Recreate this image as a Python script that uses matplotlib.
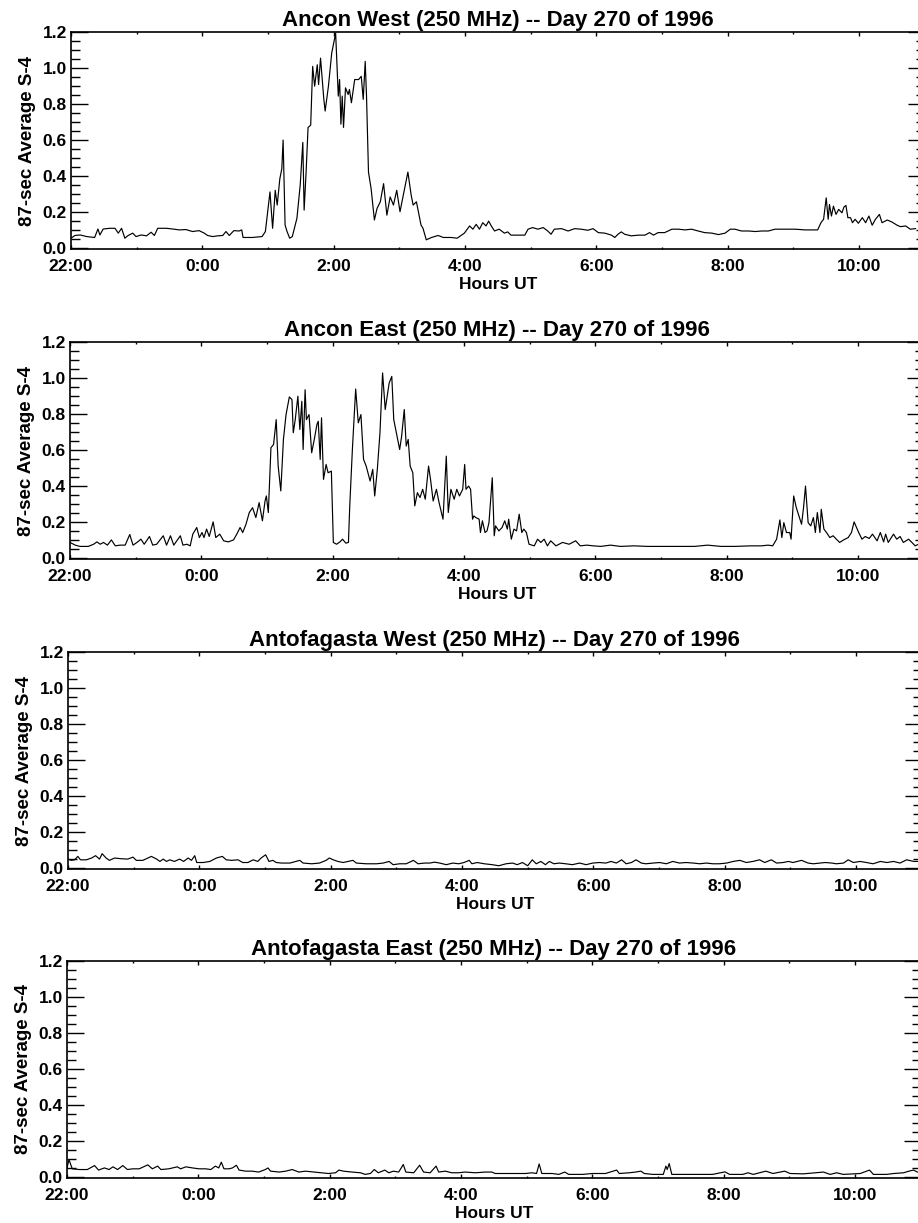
import matplotlib
matplotlib.use('Agg')
import matplotlib.pyplot as plt
from matplotlib.ticker import MultipleLocator

# hours after 22:00 UT, and 87-sec average S4
aw_t = [0.00, 0.06, 0.14, 0.24, 0.36, 0.41, 0.44, 0.49, 0.59, 0.67, 0.72, 0.77, 0.82, 0.87,
        0.94, 0.99, 1.07, 1.15, 1.22, 1.27, 1.32, 1.45, 1.55, 1.65, 1.75, 1.85, 1.95, 2.03,
        2.08, 2.16, 2.23, 2.31, 2.36, 2.41, 2.48, 2.56, 2.60, 2.62, 2.76, 2.91, 2.96, 3.03,
        3.07, 3.11, 3.14, 3.18, 3.21, 3.23, 3.26, 3.29, 3.33, 3.37, 3.44, 3.49, 3.53, 3.55,
        3.58, 3.61, 3.65, 3.68, 3.71, 3.75, 3.77, 3.80, 3.85, 3.87, 3.92, 3.97, 4.03, 4.07,
        4.09, 4.11, 4.13, 4.15, 4.18, 4.22, 4.24, 4.27, 4.32, 4.38, 4.42, 4.45, 4.48, 4.50,
        4.53, 4.57, 4.62, 4.66, 4.71, 4.76, 4.81, 4.86, 4.91, 4.96, 5.01, 5.06, 5.13, 5.18,
        5.21, 5.26, 5.33, 5.36, 5.41, 5.49, 5.59, 5.67, 5.79, 5.88, 5.99, 6.07, 6.12, 6.17,
        6.22, 6.27, 6.32, 6.36, 6.40, 6.45, 6.52, 6.60, 6.65, 6.70, 6.80, 6.91, 6.96, 7.03,
        7.11, 7.19, 7.26, 7.31, 7.36, 7.47, 7.57, 7.67, 7.77, 7.87, 7.95, 8.03, 8.13, 8.23,
        8.28, 8.33, 8.38, 8.43, 8.53, 8.64, 8.74, 8.81, 8.87, 8.94, 9.04, 9.15, 9.25, 9.35,
        9.45, 9.55, 9.65, 9.76, 9.86, 9.96, 10.04, 10.11, 10.21, 10.32, 10.42, 10.52, 10.62,
        10.72, 10.82, 10.93, 11.03, 11.18, 11.28, 11.37, 11.42, 11.46, 11.50, 11.53, 11.55,
        11.58, 11.61, 11.65, 11.69, 11.74, 11.77, 11.80, 11.83, 11.87, 11.90, 11.94, 11.99,
        12.05, 12.10, 12.15, 12.20, 12.25, 12.31, 12.35, 12.43, 12.50, 12.58, 12.63, 12.71,
        12.78, 12.86]
aw_s4 = [0.055, 0.070, 0.073, 0.064, 0.059, 0.106, 0.073, 0.106, 0.110, 0.110, 0.083, 0.110,
         0.055, 0.070, 0.083, 0.064, 0.073, 0.068, 0.088, 0.070, 0.110, 0.110, 0.106, 0.101,
         0.103, 0.092, 0.097, 0.083, 0.070, 0.064, 0.068, 0.070, 0.092, 0.070, 0.097, 0.095,
         0.101, 0.059, 0.059, 0.064, 0.092, 0.312, 0.110, 0.321, 0.239, 0.385, 0.440, 0.600,
         0.128, 0.092, 0.055, 0.064, 0.165, 0.349, 0.587, 0.211, 0.422, 0.670, 0.683, 1.009,
         0.899, 1.018, 0.908, 1.055, 0.826, 0.761, 0.899, 1.083, 1.193, 0.844, 0.936, 0.688,
         0.844, 0.670, 0.890, 0.853, 0.881, 0.807, 0.936, 0.936, 0.954, 0.826, 1.037, 0.844,
         0.422, 0.330, 0.156, 0.220, 0.257, 0.358, 0.183, 0.284, 0.239, 0.321, 0.202, 0.294,
         0.422, 0.294, 0.239, 0.257, 0.128, 0.110, 0.046, 0.059, 0.070, 0.059, 0.059, 0.055,
         0.083, 0.123, 0.105, 0.132, 0.105, 0.141, 0.123, 0.150, 0.123, 0.095, 0.105, 0.083,
         0.090, 0.072, 0.072, 0.072, 0.105, 0.114, 0.105, 0.114, 0.095, 0.077, 0.105, 0.108,
         0.095, 0.108, 0.105, 0.099, 0.108, 0.086, 0.083, 0.072, 0.059, 0.077, 0.090, 0.077,
         0.068, 0.072, 0.072, 0.086, 0.072, 0.086, 0.086, 0.105, 0.105, 0.101, 0.105, 0.095,
         0.086, 0.083, 0.075, 0.083, 0.105, 0.105, 0.095, 0.095, 0.092, 0.095, 0.095, 0.105,
         0.105, 0.105, 0.105, 0.101, 0.101, 0.101, 0.141, 0.160, 0.279, 0.160, 0.242, 0.178,
         0.233, 0.187, 0.215, 0.196, 0.228, 0.237, 0.169, 0.169, 0.141, 0.160, 0.138, 0.169,
         0.141, 0.178, 0.127, 0.160, 0.187, 0.141, 0.156, 0.145, 0.127, 0.119, 0.123, 0.105,
         0.108]

ae_t = [0.00, 0.08, 0.15, 0.28, 0.36, 0.41, 0.46, 0.51, 0.57, 0.63, 0.69, 0.76, 0.84, 0.91,
        0.96, 1.02, 1.08, 1.13, 1.21, 1.26, 1.32, 1.42, 1.47, 1.53, 1.58, 1.68, 1.72, 1.78,
        1.83, 1.87, 1.93, 1.97, 2.01, 2.04, 2.08, 2.12, 2.18, 2.22, 2.28, 2.34, 2.41, 2.49,
        2.54, 2.59, 2.63, 2.68, 2.73, 2.78, 2.83, 2.88, 2.93, 2.97, 2.99, 3.02, 3.06, 3.10,
        3.14, 3.17, 3.21, 3.25, 3.29, 3.34, 3.38, 3.40, 3.43, 3.47, 3.50, 3.53, 3.55, 3.58,
        3.60, 3.64, 3.68, 3.72, 3.76, 3.78, 3.81, 3.83, 3.86, 3.90, 3.93, 3.98, 4.01, 4.06,
        4.11, 4.15, 4.20, 4.24, 4.26, 4.30, 4.35, 4.39, 4.43, 4.47, 4.51, 4.57, 4.61, 4.64,
        4.68, 4.72, 4.76, 4.80, 4.83, 4.86, 4.90, 4.93, 4.97, 5.02, 5.05, 5.09, 5.12, 5.15,
        5.18, 5.22, 5.25, 5.29, 5.33, 5.37, 5.41, 5.46, 5.49, 5.53, 5.58, 5.62, 5.68, 5.73,
        5.76, 5.80, 5.85, 5.89, 5.93, 5.98, 6.01, 6.03, 6.07, 6.10, 6.13, 6.15, 6.18, 6.23,
        6.25, 6.28, 6.32, 6.35, 6.38, 6.43, 6.46, 6.48, 6.53, 6.58, 6.62, 6.66, 6.68, 6.72,
        6.76, 6.80, 6.84, 6.88, 6.91, 6.95, 6.99, 7.07, 7.12, 7.17, 7.22, 7.27, 7.32, 7.40,
        7.50, 7.60, 7.70, 7.77, 7.87, 7.97, 8.08, 8.23, 8.38, 8.59, 8.79, 8.99, 9.25, 9.51,
        9.71, 9.91, 10.12, 10.37, 10.53, 10.63, 10.70, 10.76, 10.81, 10.84, 10.87, 10.91,
        10.96, 10.98, 11.02, 11.06, 11.10, 11.14, 11.17, 11.20, 11.24, 11.28, 11.32, 11.35,
        11.38, 11.42, 11.44, 11.48, 11.52, 11.57, 11.62, 11.67, 11.72, 11.78, 11.85, 11.90,
        11.94, 12.01, 12.06, 12.11, 12.17, 12.22, 12.29, 12.34, 12.39, 12.42, 12.46, 12.54,
        12.59, 12.64, 12.69, 12.77, 12.82, 12.87, 12.92]
ae_s4 = [0.087, 0.072, 0.065, 0.065, 0.077, 0.090, 0.077, 0.087, 0.072, 0.101, 0.068, 0.072,
         0.072, 0.131, 0.072, 0.087, 0.105, 0.077, 0.120, 0.072, 0.077, 0.124, 0.072, 0.124,
         0.072, 0.124, 0.072, 0.077, 0.068, 0.133, 0.170, 0.114, 0.142, 0.114, 0.161, 0.120,
         0.201, 0.114, 0.133, 0.096, 0.090, 0.101, 0.133, 0.170, 0.142, 0.188, 0.253, 0.280,
         0.225, 0.308, 0.207, 0.317, 0.345, 0.253, 0.613, 0.631, 0.769, 0.511, 0.373, 0.659,
         0.797, 0.895, 0.880, 0.696, 0.769, 0.899, 0.714, 0.871, 0.603, 0.935, 0.769, 0.797,
         0.585, 0.659, 0.742, 0.760, 0.548, 0.779, 0.437, 0.520, 0.474, 0.483, 0.087, 0.077,
         0.090, 0.105, 0.083, 0.087, 0.290, 0.603, 0.939, 0.751, 0.797, 0.548, 0.511, 0.428,
         0.493, 0.345, 0.493, 0.696, 1.028, 0.825, 0.899, 0.972, 1.009, 0.769, 0.696, 0.603,
         0.677, 0.825, 0.622, 0.659, 0.511, 0.474, 0.290, 0.363, 0.336, 0.382, 0.327, 0.511,
         0.437, 0.317, 0.382, 0.308, 0.216, 0.566, 0.253, 0.382, 0.327, 0.382, 0.345, 0.382,
         0.520, 0.382, 0.400, 0.382, 0.216, 0.234, 0.225, 0.216, 0.142, 0.207, 0.142, 0.151,
         0.197, 0.446, 0.124, 0.179, 0.151, 0.170, 0.207, 0.161, 0.216, 0.105, 0.161, 0.151,
         0.244, 0.142, 0.161, 0.142, 0.077, 0.068, 0.105, 0.087, 0.105, 0.068, 0.096, 0.068,
         0.087, 0.077, 0.096, 0.068, 0.072, 0.068, 0.065, 0.072, 0.065, 0.068, 0.065, 0.065,
         0.065, 0.065, 0.072, 0.065, 0.065, 0.068, 0.068, 0.072, 0.068, 0.105, 0.212, 0.114,
         0.197, 0.142, 0.142, 0.105, 0.345, 0.280, 0.234, 0.188, 0.280, 0.400, 0.197, 0.179,
         0.225, 0.142, 0.253, 0.142, 0.271, 0.161, 0.142, 0.114, 0.124, 0.105, 0.087, 0.101,
         0.114, 0.142, 0.201, 0.142, 0.105, 0.120, 0.109, 0.133, 0.096, 0.142, 0.090, 0.133,
         0.087, 0.133, 0.105, 0.120, 0.087, 0.105, 0.087, 0.068, 0.077]

fw_t = [0.00, 0.05, 0.10, 0.15, 0.19, 0.28, 0.36, 0.42, 0.48, 0.52, 0.58, 0.63, 0.71, 0.81,
        0.91, 0.99, 1.04, 1.14, 1.27, 1.35, 1.40, 1.45, 1.50, 1.55, 1.62, 1.70, 1.76, 1.83,
        1.88, 1.93, 1.96, 2.06, 2.16, 2.26, 2.35, 2.41, 2.49, 2.59, 2.66, 2.74, 2.82, 2.89,
        2.94, 3.01, 3.06, 3.12, 3.17, 3.25, 3.38, 3.53, 3.58, 3.71, 3.83, 3.93, 3.98, 4.04,
        4.11, 4.19, 4.34, 4.39, 4.54, 4.70, 4.80, 4.89, 4.95, 5.05, 5.15, 5.26, 5.33, 5.43,
        5.51, 5.58, 5.66, 5.76, 5.86, 5.95, 6.03, 6.11, 6.15, 6.23, 6.34, 6.46, 6.56, 6.67,
        6.77, 6.84, 6.92, 7.00, 7.07, 7.13, 7.20, 7.27, 7.33, 7.40, 7.48, 7.58, 7.68, 7.79,
        7.89, 7.99, 8.09, 8.19, 8.27, 8.35, 8.43, 8.50, 8.58, 8.65, 8.73, 8.80, 8.91, 9.01,
        9.11, 9.21, 9.31, 9.41, 9.52, 9.62, 9.72, 9.82, 9.92, 10.03, 10.13, 10.23, 10.33,
        10.43, 10.53, 10.61, 10.71, 10.79, 10.89, 10.97, 11.04, 11.17, 11.27, 11.35, 11.45,
        11.53, 11.63, 11.70, 11.81, 11.88, 11.96, 12.06, 12.16, 12.26, 12.37, 12.47, 12.57,
        12.67, 12.77, 12.88, 12.94]
fw_s4 = [0.050, 0.043, 0.046, 0.065, 0.046, 0.046, 0.056, 0.069, 0.050, 0.080, 0.056, 0.043,
         0.056, 0.052, 0.050, 0.061, 0.043, 0.043, 0.065, 0.050, 0.037, 0.050, 0.037, 0.046,
         0.037, 0.050, 0.037, 0.056, 0.043, 0.069, 0.031, 0.031, 0.037, 0.056, 0.065, 0.046,
         0.043, 0.046, 0.031, 0.031, 0.046, 0.037, 0.056, 0.074, 0.037, 0.043, 0.031, 0.028,
         0.028, 0.043, 0.028, 0.024, 0.028, 0.043, 0.056, 0.046, 0.037, 0.031, 0.043, 0.028,
         0.024, 0.024, 0.028, 0.037, 0.019, 0.024, 0.024, 0.043, 0.024, 0.028, 0.028, 0.033,
         0.028, 0.019, 0.028, 0.024, 0.031, 0.043, 0.024, 0.031, 0.024, 0.019, 0.013, 0.024,
         0.028, 0.019, 0.031, 0.013, 0.046, 0.024, 0.037, 0.019, 0.037, 0.024, 0.028, 0.024,
         0.019, 0.028, 0.019, 0.028, 0.031, 0.028, 0.037, 0.028, 0.046, 0.024, 0.031, 0.046,
         0.028, 0.024, 0.028, 0.031, 0.024, 0.037, 0.028, 0.031, 0.028, 0.024, 0.028, 0.024,
         0.024, 0.028, 0.037, 0.043, 0.031, 0.037, 0.046, 0.031, 0.046, 0.028, 0.031, 0.037,
         0.031, 0.043, 0.028, 0.024, 0.028, 0.031, 0.028, 0.024, 0.028, 0.046, 0.031, 0.037,
         0.031, 0.024, 0.037, 0.031, 0.037, 0.028, 0.046, 0.037, 0.037]

fe_t = [0.00, 0.03, 0.08, 0.19, 0.31, 0.42, 0.48, 0.57, 0.64, 0.70, 0.77, 0.85, 0.92, 1.00,
        1.10, 1.23, 1.30, 1.38, 1.43, 1.55, 1.68, 1.73, 1.81, 1.91, 2.01, 2.11, 2.19, 2.26,
        2.31, 2.35, 2.39, 2.47, 2.52, 2.58, 2.62, 2.72, 2.82, 2.92, 3.02, 3.06, 3.10, 3.23,
        3.33, 3.43, 3.53, 3.63, 3.76, 3.88, 3.98, 4.09, 4.14, 4.21, 4.34, 4.47, 4.54, 4.62,
        4.68, 4.74, 4.84, 4.90, 4.97, 5.05, 5.09, 5.12, 5.16, 5.28, 5.37, 5.43, 5.53, 5.62,
        5.66, 5.76, 5.86, 5.96, 6.06, 6.22, 6.37, 6.47, 6.52, 6.73, 6.98, 7.08, 7.15, 7.19,
        7.23, 7.39, 7.49, 7.58, 7.64, 7.85, 8.00, 8.20, 8.37, 8.41, 8.56, 8.66, 8.74, 8.79,
        8.92, 9.08, 9.12, 9.14, 9.17, 9.21, 9.43, 9.63, 9.83, 10.02, 10.09, 10.29, 10.37,
        10.45, 10.64, 10.75, 10.93, 11.01, 11.21, 11.52, 11.62, 11.72, 11.82, 12.08, 12.22,
        12.28, 12.48, 12.59, 12.74, 12.82, 12.89, 12.95]
fe_s4 = [0.051, 0.097, 0.046, 0.042, 0.042, 0.064, 0.039, 0.051, 0.042, 0.057, 0.042, 0.064,
         0.042, 0.046, 0.046, 0.068, 0.046, 0.061, 0.042, 0.046, 0.057, 0.046, 0.057, 0.051,
         0.046, 0.046, 0.042, 0.061, 0.051, 0.083, 0.046, 0.046, 0.051, 0.066, 0.039, 0.033,
         0.033, 0.028, 0.042, 0.051, 0.033, 0.028, 0.033, 0.042, 0.028, 0.033, 0.028, 0.024,
         0.020, 0.024, 0.039, 0.033, 0.028, 0.024, 0.015, 0.020, 0.042, 0.024, 0.039, 0.024,
         0.033, 0.028, 0.051, 0.070, 0.028, 0.024, 0.066, 0.028, 0.024, 0.061, 0.028, 0.033,
         0.024, 0.024, 0.028, 0.024, 0.028, 0.028, 0.020, 0.020, 0.020, 0.024, 0.020, 0.073,
         0.020, 0.020, 0.015, 0.028, 0.015, 0.015, 0.020, 0.020, 0.039, 0.020, 0.024, 0.028,
         0.033, 0.020, 0.015, 0.015, 0.061, 0.042, 0.075, 0.015, 0.015, 0.015, 0.015, 0.029,
         0.015, 0.015, 0.024, 0.015, 0.033, 0.020, 0.033, 0.020, 0.018, 0.028, 0.015, 0.024,
         0.015, 0.020, 0.039, 0.015, 0.015, 0.020, 0.024, 0.033, 0.039, 0.028]

titles = ['Ancon West (250 MHz) -- Day 270 of 1996',
          'Ancon East (250 MHz) -- Day 270 of 1996',
          'Antofagasta West (250 MHz) -- Day 270 of 1996',
          'Antofagasta East (250 MHz) -- Day 270 of 1996']
hour_ticks = [0, 2, 4, 6, 8, 10, 12]
hour_labels = ['22:00', '0:00', '2:00', '4:00', '6:00', '8:00', '10:00']

series = [(aw_t, aw_s4), (ae_t, ae_s4), (fw_t, fw_s4), (fe_t, fe_s4)]

plt.rcParams['font.family'] = ['Liberation Sans', 'DejaVu Sans']
plt.rcParams['font.weight'] = 'bold'

W, H = 918, 1223
fig = plt.figure(figsize=(W / 100, H / 100), dpi=100)

# panel frames in pixels (IDL-style stacked plots)
lefts = [71, 70, 68, 67]
tops = [32, 342, 652, 961]
ph = 217
pw = 13 * 65.67

for i in range(4):
    ax = fig.add_axes([lefts[i] / W, 1 - (tops[i] + ph) / H, pw / W, ph / H])
    t, s4 = series[i]
    ax.plot(t, s4, color='black', lw=0.85)
    ax.set_xlim(0, 13)
    ax.set_ylim(-0.005, 1.2)

    ax.set_xticks(hour_ticks)
    ax.set_xticklabels(hour_labels)
    ax.xaxis.set_minor_locator(MultipleLocator(1))
    ax.set_yticks([0, 0.2, 0.4, 0.6, 0.8, 1.0, 1.2])
    ax.set_yticklabels(['0.0', '0.2', '0.4', '0.6', '0.8', '1.0', '1.2'])
    ax.yaxis.set_minor_locator(MultipleLocator(0.05))

    ax.tick_params(axis='both', which='both', direction='in', top=True, right=True,
                   color='black', width=1.0, labelsize=12.5)
    ax.tick_params(axis='x', which='major', length=3, pad=7)
    ax.tick_params(axis='x', which='minor', length=1.5)
    ax.tick_params(axis='y', which='major', length=12.5, pad=3)
    ax.tick_params(axis='y', which='minor', length=6.5)
    for sp in ax.spines.values():
        sp.set_linewidth(1.2)

    ax.set_title(titles[i], fontsize=16, fontweight='bold', pad=4)
    ax.set_xlabel('Hours UT', fontsize=12.5, fontweight='bold', labelpad=2.5)
    ax.set_ylabel('87-sec Average S-4', fontsize=13.5, fontweight='bold', labelpad=5)

fig.savefig('out.png', dpi=100)
